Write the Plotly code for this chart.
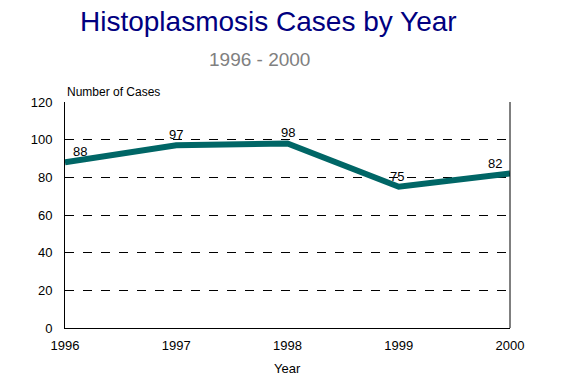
import plotly.graph_objects as go

years = [1996, 1997, 1998, 1999, 2000]
cases = [88, 97, 98, 75, 82]
y_ticks = [0, 20, 40, 60, 80, 100, 120]

FONT = "Liberation Sans, Arial, sans-serif"

fig = go.Figure()
fig.add_trace(go.Scatter(
    x=years, y=cases, mode="lines",
    line=dict(color="#006666", width=6),
    cliponaxis=False, showlegend=False, hoverinfo="x+y",
))

# data labels placed at each data point, nudged like the reference
label_xshift = [15, 0, 0, -2, -15]
label_yshift = [1, 1, 1, 1, 1]
label_anns = [
    dict(x=x, y=v, xref="x", yref="y", text=str(v), showarrow=False,
         xanchor="center", yanchor="bottom", xshift=dx, yshift=dy,
         font=dict(family=FONT, size=13, color="black"))
    for x, v, dx, dy in zip(years, cases, label_xshift, label_yshift)
]

plot_h = 376 - 102 - 48


def py(pixel_y):
    return 1 + (102 - pixel_y) / plot_h


fig.update_layout(
    width=562, height=376,
    margin=dict(l=65, r=52, t=102, b=48),
    paper_bgcolor="white", plot_bgcolor="white",
    font=dict(family=FONT, size=13, color="black"),
    xaxis=dict(
        range=[1996, 2000], tickvals=years, ticktext=[str(y) for y in years],
        showgrid=False, zeroline=False, showline=True, linecolor="black", linewidth=1,
        mirror=False, ticks="", ticklen=0, ticklabelstandoff=5,
    ),
    yaxis=dict(
        range=[0, 120], tickvals=y_ticks, showgrid=True, gridcolor="black", gridwidth=1,
        griddash="dash", zeroline=False, showline=True, linecolor="black", linewidth=1,
        ticks="", ticklen=0, ticklabelstandoff=9,
    ),
    annotations=label_anns + [
        dict(text="Histoplasmosis Cases by Year", x=0.458, y=py(22), xref="paper", yref="paper",
             yanchor="middle", showarrow=False, font=dict(family=FONT, size=28, color="#000080")),
        dict(text="1996 - 2000", x=0.438, y=py(60), xref="paper", yref="paper",
             yanchor="middle", showarrow=False, font=dict(family=FONT, size=19, color="#808080")),
        dict(text="Number of Cases", x=0, y=1, xref="paper", yref="paper",
             xanchor="left", yanchor="bottom", yshift=1, showarrow=False,
             font=dict(family=FONT, size=12, color="black")),
        dict(text="Year", x=0.5, y=0, xref="paper", yref="paper",
             xanchor="center", yanchor="top", yshift=-31, showarrow=False,
             font=dict(family=FONT, size=13, color="black")),
    ],
    shapes=[
        dict(type="line", xref="paper", yref="paper", x0=1, x1=1, y0=0, y1=1,
             line=dict(color="black", width=1)),
    ],
)

fig.write_html("out.html", config={"displayModeBar": False})

# remove default browser body margin so the figure sits at the window's origin
with open("out.html", "r", encoding="utf-8") as f:
    html = f.read()
html = html.replace("<head>", "<head><style>html,body{margin:0;padding:0;overflow:hidden;}</style>", 1)
with open("out.html", "w", encoding="utf-8") as f:
    f.write(html)
